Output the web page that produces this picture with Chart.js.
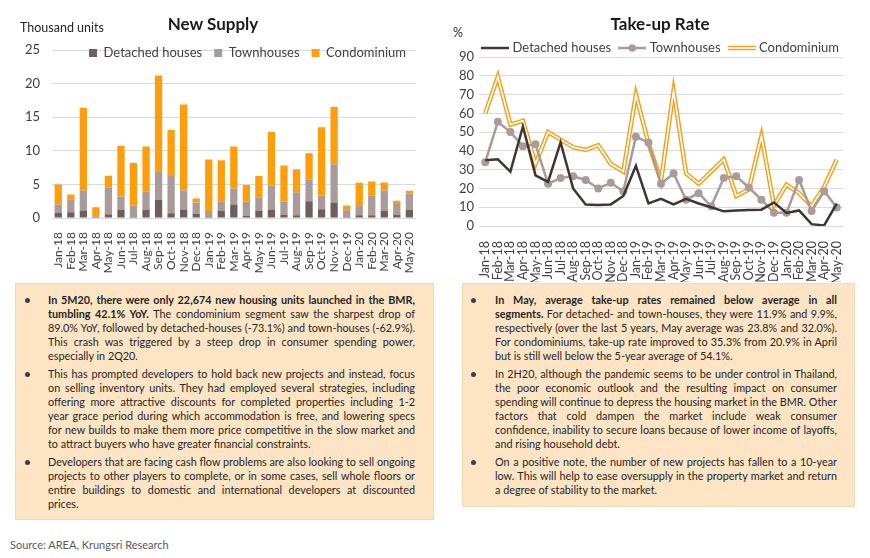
<!DOCTYPE html>
<html>
<head>
<meta charset="utf-8">
<script src="https://cdn.jsdelivr.net/npm/chart.js@4.4.1/dist/chart.umd.min.js"></script>
<style>
  html,body{margin:0;padding:0;background:#fff;}
  body{width:870px;height:558px;position:relative;overflow:hidden;font-family:Lato,"Noto Sans",sans-serif;color:#262626;}
  .abs{position:absolute;}
  .title{font-weight:bold;font-size:17px;color:#1a1a1a;transform:translate(-50%,-50%);white-space:nowrap;}
  .unit{font-size:12.5px;color:#262626;transform:translateY(-50%);white-space:nowrap;}
  .box{position:absolute;background:#FCE4C4;border:1px solid #F2D9B8;box-sizing:border-box;}
  .txt{position:absolute;transform-origin:left top;font-size:11.6px;line-height:14px;color:#262626;}
  .para{margin-bottom:4px;}
  .ln{white-space:nowrap;}
  .ln.j{text-align:justify;text-align-last:justify;}
  .bul{position:absolute;width:5px;height:5px;border-radius:50%;background:#404040;}
  .src{font-size:11px;color:#595959;white-space:nowrap;}
</style>
</head>
<body>
<canvas id="supply" class="abs" style="left:0;top:0;width:430px;height:282px" width="430" height="282"></canvas>
<canvas id="takeup" class="abs" style="left:430px;top:0;width:440px;height:282px" width="440" height="282"></canvas>

<div class="abs title" style="left:213px;top:23px">New Supply</div>
<div class="abs unit" style="left:20px;top:27px">Thousand units</div>
<div class="abs title" style="left:660px;top:23px">Take-up Rate</div>
<div class="abs unit" style="left:453px;top:32px">%</div>

<div class="box" style="left:15px;top:283px;width:419px;height:237px"></div>
<div class="bul" style="left:25px;top:298px"></div>
<div class="bul" style="left:25px;top:372px"></div>
<div class="bul" style="left:25px;top:460px"></div>
<div class="txt" id="txtL" style="left:48px;top:293px;width:367px">
  <div class="para">
    <div class="ln j"><span><b>In 5M20, there were only 22,674 new housing units launched in the BMR,</b></span></div>
    <div class="ln j"><span><b>tumbling 42.1% YoY.</b> The condominium segment saw the sharpest drop of</span></div>
    <div class="ln j"><span>89.0% YoY, followed by detached-houses (-73.1%) and town-houses (-62.9%).</span></div>
    <div class="ln j"><span>This crash was triggered by a steep drop in consumer spending power,</span></div>
    <div class="ln"><span>especially in 2Q20.</span></div>
  </div>
  <div class="para">
    <div class="ln j"><span>This has prompted developers to hold back new projects and instead, focus</span></div>
    <div class="ln j"><span>on selling inventory units. They had employed several strategies, including</span></div>
    <div class="ln j"><span>offering more attractive discounts for completed properties including 1-2</span></div>
    <div class="ln j"><span>year grace period during which accommodation is free, and lowering specs</span></div>
    <div class="ln j"><span>for new builds to make them more price competitive in the slow market and</span></div>
    <div class="ln"><span>to attract buyers who have greater financial constraints.</span></div>
  </div>
  <div class="para">
    <div class="ln j"><span>Developers that are facing cash flow problems are also looking to sell ongoing</span></div>
    <div class="ln j"><span>projects to other players to complete, or in some cases, sell whole floors or</span></div>
    <div class="ln j"><span>entire buildings to domestic and international developers at discounted</span></div>
    <div class="ln"><span>prices.</span></div>
  </div>
</div>

<div class="box" style="left:462px;top:283px;width:393px;height:224px"></div>
<div class="bul" style="left:471px;top:298px"></div>
<div class="bul" style="left:471px;top:372px"></div>
<div class="bul" style="left:471px;top:460px"></div>
<div class="txt" id="txtR" style="left:495px;top:293px;width:342px">
  <div class="para">
    <div class="ln j"><span><b>In May, average take-up rates remained below average in all</b></span></div>
    <div class="ln j"><span><b>segments.</b> For detached- and town-houses, they were 11.9% and 9.9%,</span></div>
    <div class="ln j"><span>respectively (over the last 5 years, May average was 23.8% and 32.0%).</span></div>
    <div class="ln j"><span>For condominiums, take-up rate improved to 35.3% from 20.9% in April</span></div>
    <div class="ln"><span>but is still well below the 5-year average of 54.1%.</span></div>
  </div>
  <div class="para">
    <div class="ln j"><span>In 2H20, although the pandemic seems to be under control in Thailand,</span></div>
    <div class="ln j"><span>the poor economic outlook and the resulting impact on consumer</span></div>
    <div class="ln j"><span>spending will continue to depress the housing market in the BMR. Other</span></div>
    <div class="ln j"><span>factors that cold dampen the market include weak consumer</span></div>
    <div class="ln j"><span>confidence, inability to secure loans because of lower income of layoffs,</span></div>
    <div class="ln"><span>and rising household debt.</span></div>
  </div>
  <div class="para">
    <div class="ln j"><span>On a positive note, the number of new projects has fallen to a 10-year</span></div>
    <div class="ln j"><span>low. This will help to ease oversupply in the property market and return</span></div>
    <div class="ln"><span>a degree of stability to the market.</span></div>
  </div>
</div>

<div class="abs src" style="left:10px;top:538px">Source: AREA, Krungsri Research</div>

<script>
// ---------- DATA ----------
const months = ['Jan-18','Feb-18','Mar-18','Apr-18','May-18','Jun-18','Jul-18','Aug-18','Sep-18','Oct-18','Nov-18','Dec-18',
                'Jan-19','Feb-19','Mar-19','Apr-19','May-19','Jun-19','Jul-19','Aug-19','Sep-19','Oct-19','Nov-19','Dec-19',
                'Jan-20','Feb-20','Mar-20','Apr-20','May-20'];

// New supply, thousand units
const supplyDetached    = [0.75,0.85,1.1,0.15,0.55,1.2,0.15,1.2,2.7,0.7,1.2,0.65, 0.15,1.05,2.0,0.3,1.1,1.2,0.5,0.4,2.5,1.3,2.3,0.2, 0.4,0.4,1.05,0.5,1.2];
const supplyTownhouses  = [1.25,1.95,3.0,0.1,3.95,2.0,1.7,2.7,4.15,5.55,2.9,1.65, 0.9,1.45,2.4,2.1,1.9,3.6,1.9,3.45,3.25,2.0,5.7,0.95, 1.4,2.9,3.05,1.6,2.4];
const supplyCondominium = [3.0,0.7,12.3,1.35,1.8,7.55,6.35,6.75,14.35,6.85,12.8,0.6, 7.65,6.1,6.25,2.5,3.25,8.0,5.4,3.4,3.9,10.2,8.5,0.7, 3.45,2.15,1.2,0.45,0.45];

// Take-up rate, %
const rateDetached    = [35,35.5,29,53,27,23.5,44.5,20,11.5,11.2,11.5,16, 32,12,14.5,11.5,14.5,12,10,7.8,8.2,8.5,8.7,12.5, 7,8.3,1,0.3,11.9];
const rateTownhouses  = [34,55.5,50,42.5,43.5,22.5,25.5,26.5,24.5,20,23,18.5, 47.5,44.5,22.5,28,14,17.5,10.5,25.5,26.5,20.5,14,7, 7,24.5,8,18.5,9.9];
const rateCondominium = [60,79.5,54,56,33,50,46,42,40.5,43,33,29, 70,44,24,72,28,22.5,29,35.5,16,19.5,48,11, 22,17.5,10.5,20.9,35.3];

const supplyTicks = [0,5,10,15,20,25];
const rateTicks = [0,10,20,30,40,50,60,70,80,90];

// ---------- helpers ----------
const FONT = 'Lato';
const TXT = '#404040';
const GRID = '#D9D9D9';

// legend takes (almost) no layout room; it is drawn at a chosen height
const legendShift = {
  id: 'legendShift',
  beforeDraw(chart, args, opts) {
    const lg = chart.legend;
    if (!lg || opts.centerY == null) return;
    const lo = chart.options.plugins.legend.labels;
    const t = opts.centerY - lo.padding - lo.font.size / 2;
    lg.top = t; lg.bottom = t + 40; lg.height = 40;
    if (opts.shiftX) { lg.left += opts.shiftX; lg.right += opts.shiftX; }
  }
};

function icon(draw) {
  const c = document.createElement('canvas');
  c.width = 28; c.height = 10;
  draw(c.getContext('2d'));
  return c;
}
const icDet = icon(g => { g.strokeStyle = '#403535'; g.lineWidth = 2.5; g.beginPath(); g.moveTo(0,5); g.lineTo(28,5); g.stroke(); });
const icTown = icon(g => { g.strokeStyle = '#A89B9A'; g.lineWidth = 2.5; g.beginPath(); g.moveTo(0,5); g.lineTo(28,5); g.stroke();
  g.fillStyle = '#A89B9A'; g.beginPath(); g.arc(14,5,3.8,0,Math.PI*2); g.fill(); });
const icCondo = icon(g => { g.lineCap='butt'; g.strokeStyle = '#F4A11C'; g.lineWidth = 4.5; g.beginPath(); g.moveTo(0,5); g.lineTo(28,5); g.stroke();
  g.strokeStyle = '#FFFFFF'; g.lineWidth = 1.6; g.beginPath(); g.moveTo(0,5); g.lineTo(28,5); g.stroke(); });

// ---------- New Supply ----------
new Chart(document.getElementById('supply'), {
  type: 'bar',
  data: {
    labels: months,
    datasets: [
      { label: 'Detached houses', data: supplyDetached, backgroundColor: '#6E5F5F', borderWidth: 0, barPercentage: 0.58, categoryPercentage: 1 },
      { label: 'Townhouses', data: supplyTownhouses, backgroundColor: '#A89B9A', borderWidth: 0, barPercentage: 0.58, categoryPercentage: 1 },
      { label: 'Condominium', data: supplyCondominium, backgroundColor: '#FF9D0A', borderWidth: 0, barPercentage: 0.58, categoryPercentage: 1 }
    ]
  },
  options: {
    responsive: false, animation: false, devicePixelRatio: 1,
    layout: { padding: { left: 0, right: 14, top: 49, bottom: 0 } },
    plugins: {
      legend: {
        position: 'top', align: 'end', maxHeight: 1,
        labels: { boxWidth: 8, boxHeight: 8, padding: 12, color: TXT, font: { family: FONT, size: 13 } }
      },
      tooltip: { enabled: false },
      legendShift: { centerY: 53, shiftX: 2 }
    },
    scales: {
      x: {
        stacked: true,
        grid: { display: false },
        border: { display: true, color: GRID },
        ticks: { autoSkip: false, minRotation: 90, maxRotation: 90, padding: 6, color: TXT, font: { family: FONT, size: 12 } },
        afterFit: s => { s.height = 64; }
      },
      y: {
        stacked: true, min: 0, max: 25,
        afterBuildTicks: s => { s.ticks = supplyTicks.map(v => ({ value: v })); },
        grid: { color: GRID, drawTicks: false },
        border: { display: false },
        ticks: { padding: 12, color: TXT, font: { family: FONT, size: 13 } },
        afterFit: s => { s.width = 52; }
      }
    }
  },
  plugins: [legendShift]
});

// ---------- Take-up Rate ----------
new Chart(document.getElementById('takeup'), {
  type: 'line',
  data: {
    labels: months,
    datasets: [
      { label: 'Detached houses', data: rateDetached, borderColor: '#403535', borderWidth: 2.5, pointRadius: 0, tension: 0, order: 0 },
      { label: 'Townhouses', data: rateTownhouses, borderColor: '#A89B9A', backgroundColor: '#A89B9A', borderWidth: 2.5,
        pointRadius: 4, pointBackgroundColor: '#A89B9A', pointBorderColor: '#A89B9A', pointBorderWidth: 0, tension: 0, order: 1 },
      { label: 'Condominium', data: rateCondominium, borderColor: '#FFFFFF', borderWidth: 1.6, pointRadius: 0, tension: 0, order: 2 },
      { label: 'Condominium', data: rateCondominium, borderColor: '#F4A11C', borderWidth: 4.5, pointRadius: 0, tension: 0, order: 3 }
    ]
  },
  options: {
    responsive: false, animation: false, devicePixelRatio: 1,
    layout: { padding: { left: 0, right: 27, top: 56, bottom: 0 } },
    plugins: {
      legend: {
        position: 'top', align: 'end', maxHeight: 1,
        labels: {
          usePointStyle: true, pointStyleWidth: 22, boxHeight: 10, padding: 10, color: TXT, font: { family: FONT, size: 13 },
          generateLabels: () => [
            { text: 'Detached houses', pointStyle: icDet, fillStyle: 'transparent', strokeStyle: 'transparent', lineWidth: 0, hidden: false, datasetIndex: 0, fontColor: TXT },
            { text: 'Townhouses', pointStyle: icTown, fillStyle: 'transparent', strokeStyle: 'transparent', lineWidth: 0, hidden: false, datasetIndex: 1, fontColor: TXT },
            { text: 'Condominium', pointStyle: icCondo, fillStyle: 'transparent', strokeStyle: 'transparent', lineWidth: 0, hidden: false, datasetIndex: 3, fontColor: TXT }
          ]
        }
      },
      tooltip: { enabled: false },
      legendShift: { centerY: 48, shiftX: 6 }
    },
    scales: {
      x: {
        offset: true,
        grid: { display: false },
        border: { display: true, color: GRID },
        ticks: { autoSkip: false, minRotation: 90, maxRotation: 90, padding: 7, color: TXT, font: { family: FONT, size: 12.5 } },
        afterFit: s => { s.height = 56; }
      },
      y: {
        min: 0, max: 90,
        afterBuildTicks: s => { s.ticks = rateTicks.map(v => ({ value: v })); },
        grid: { color: GRID, drawTicks: false },
        border: { display: false },
        ticks: { padding: 5, color: TXT, font: { family: FONT, size: 13 } },
        afterFit: s => { s.width = 49; }
      }
    }
  },
  plugins: [legendShift]
});

// ---------- fit justified text lines ----------
function fitText(id, W) {
  const c = document.getElementById(id);
  let maxW = 0;
  c.querySelectorAll('.ln > span').forEach(s => { maxW = Math.max(maxW, s.getBoundingClientRect().width); });
  const k = Math.min(1, W / maxW);
  c.style.width = (W / k) + 'px';
  c.style.transform = 'scaleX(' + k + ')';
}
fitText('txtL', 367);
fitText('txtR', 342);
</script>
</body>
</html>
